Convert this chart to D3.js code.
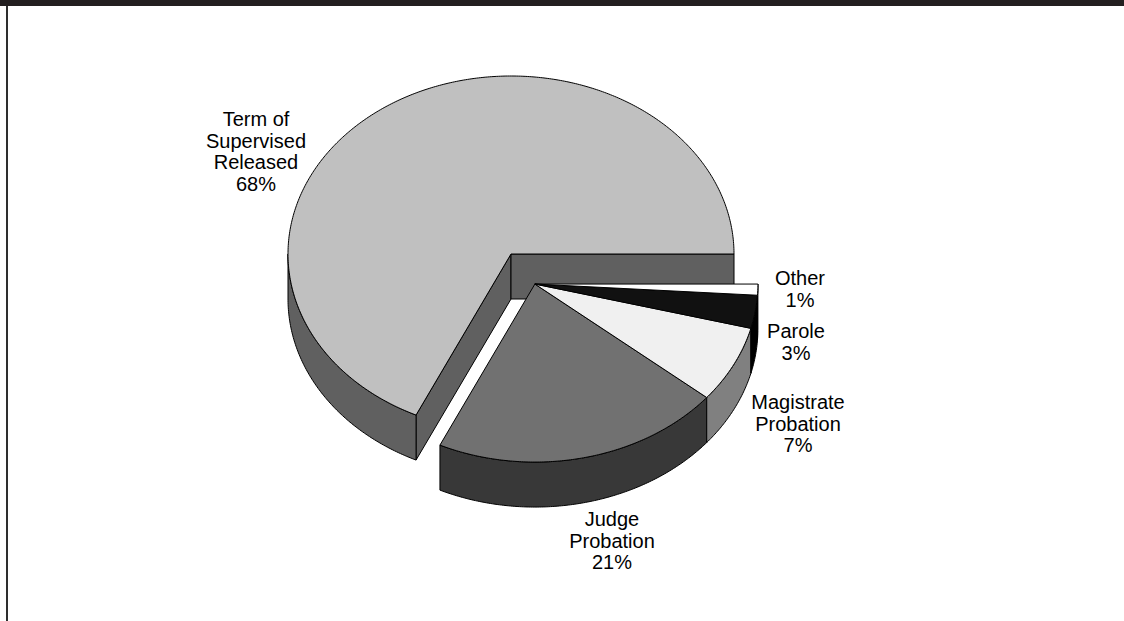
<!DOCTYPE html>
<html>
<head>
<meta charset="utf-8">
<script src="https://cdn.jsdelivr.net/npm/d3@7"></script>
<style>
  html, body { margin: 0; padding: 0; background: #ffffff; }
  svg { display: block; }
  text { font-family: "Liberation Sans", Arial, Helvetica, sans-serif; }
</style>
</head>
<body>
<svg id="chart" width="1124" height="621"></svg>
<script>
// Supervision types, share of cases (percent)
const categories = ["Term of Supervised Released", "Judge Probation", "Magistrate Probation", "Parole", "Other"];
const labelLines = [["Term of", "Supervised", "Released"], ["Judge", "Probation"], ["Magistrate", "Probation"], ["Parole"], ["Other"]];
const shares = [68, 21, 7, 3, 1];

// Fill of each slice's top face and of its walls
const topColors  = ["#c0c0c0", "#717171", "#f0f0f0", "#111111", "#ffffff"];
const sideColors = ["#606060", "#383838", "#808080", "#000000", "#ffffff"];

// Label anchors (first baseline, centre of text block)
const labelAnchors = [[256, 126], [612, 526], [798, 409], [796, 338], [800, 285]];
const lineGap = 21.5;

const W = 1124, H = 621;
const svg = d3.select("#chart");

// frame: heavy rule along the top, thin rule down the left side
svg.append("rect").attr("x", 0).attr("y", 0).attr("width", W).attr("height", 6).attr("fill", "#231f20");
svg.append("rect").attr("x", 6).attr("y", 6).attr("width", 2).attr("height", H - 6).attr("fill", "#2e2e2e");

// projected pie geometry
const cx = 511, cy = 254, rx = 223, ry = 178, depth = 45, explode = 0.2;

const data = categories.map((c, i) => ({ name: c, value: shares[i], i }));
// first slice starts at 3 o'clock and runs counter-clockwise
const pie = d3.pie().value(d => d.value).sort(null)
  .startAngle(Math.PI / 2).endAngle(Math.PI / 2 - 2 * Math.PI);
const arcs = pie(data);

// screen angle theta: 0 at 3 o'clock, increasing clockwise
arcs.forEach(a => {
  let t0 = Math.min(a.startAngle, a.endAngle) - Math.PI / 2;
  let t1 = Math.max(a.startAngle, a.endAngle) - Math.PI / 2;
  while (t0 < -1e-9) { t0 += 2 * Math.PI; t1 += 2 * Math.PI; }
  a.t0 = t0; a.t1 = t1;
});

// all slices after the first are pulled out together along their shared mid-angle
const group = arcs.slice(1);
const gT0 = d3.min(group, a => a.t0), gT1 = d3.max(group, a => a.t1);
const gMid = (gT0 + gT1) / 2;
const gdx = explode * rx * Math.cos(gMid);
const gdy = explode * ry * Math.sin(gMid);
arcs.forEach((a, k) => {
  a.ox = k === 0 ? cx : cx + gdx;
  a.oy = k === 0 ? cy : cy + gdy;
  // radial cut faces exist only on the outer edges of each solid piece
  a.cut0 = k === 0 || Math.abs(a.t0 - gT0) < 1e-9;
  a.cut1 = k === 0 || Math.abs(a.t1 - gT1) < 1e-9;
});

const pt = (a, t, dz) => [a.ox + rx * Math.cos(t), a.oy + ry * Math.sin(t) + (dz || 0)];
function arcPts(a, t0, t1, dz) {
  const n = Math.max(2, Math.ceil(Math.abs(t1 - t0) / 0.01));
  return d3.range(n + 1).map(j => pt(a, t0 + (t1 - t0) * j / n, dz));
}
const line = d3.line().curve(d3.curveLinear);

function drawFaces(a) {
  const g = svg.append("g").attr("stroke", "#000").attr("stroke-width", 1).attr("stroke-linejoin", "round");
  const side = sideColors[a.data.i];
  // cut faces along the radii, only where they face the viewer
  [[a.t0, a.cut0 && Math.cos(a.t0) < 0], [a.t1, a.cut1 && Math.cos(a.t1) > 0]].forEach(([t, vis]) => {
    if (!vis) return;
    const p = pt(a, t, 0), q = pt(a, t, depth);
    g.append("path").attr("fill", side)
      .attr("d", line([[a.ox, a.oy], p, q, [a.ox, a.oy + depth]]) + "Z");
  });
  // outer curved wall on the front half of the ellipse
  [[0, Math.PI], [2 * Math.PI, 3 * Math.PI]].forEach(([lo, hi]) => {
    const s = Math.max(a.t0, lo), e = Math.min(a.t1, hi);
    if (e - s <= 1e-6) return;
    const pts = arcPts(a, s, e, 0).concat(arcPts(a, e, s, depth));
    g.append("path").attr("fill", side).attr("d", line(pts) + "Z");
  });
}
function drawTop(a) {
  const pts = [[a.ox, a.oy]].concat(arcPts(a, a.t0, a.t1, 0));
  svg.append("path").attr("fill", topColors[a.data.i])
    .attr("stroke", "#000").attr("stroke-width", 1).attr("stroke-linejoin", "round")
    .attr("d", line(pts) + "Z");
}

// back slice first, then the pulled-out group (walls, then tops)
drawFaces(arcs[0]);
drawTop(arcs[0]);
group.forEach(drawFaces);
group.forEach(drawTop);

// labels
arcs.forEach((a, k) => {
  const lines = labelLines[k].concat([shares[k] + "%"]);
  const [lx, ly] = labelAnchors[k];
  const t = svg.append("text").attr("text-anchor", "middle")
    .attr("font-size", 20).attr("fill", "#000");
  lines.forEach((s, j) => t.append("tspan").attr("x", lx).attr("y", ly + j * lineGap).text(s));
});
</script>
</body>
</html>
